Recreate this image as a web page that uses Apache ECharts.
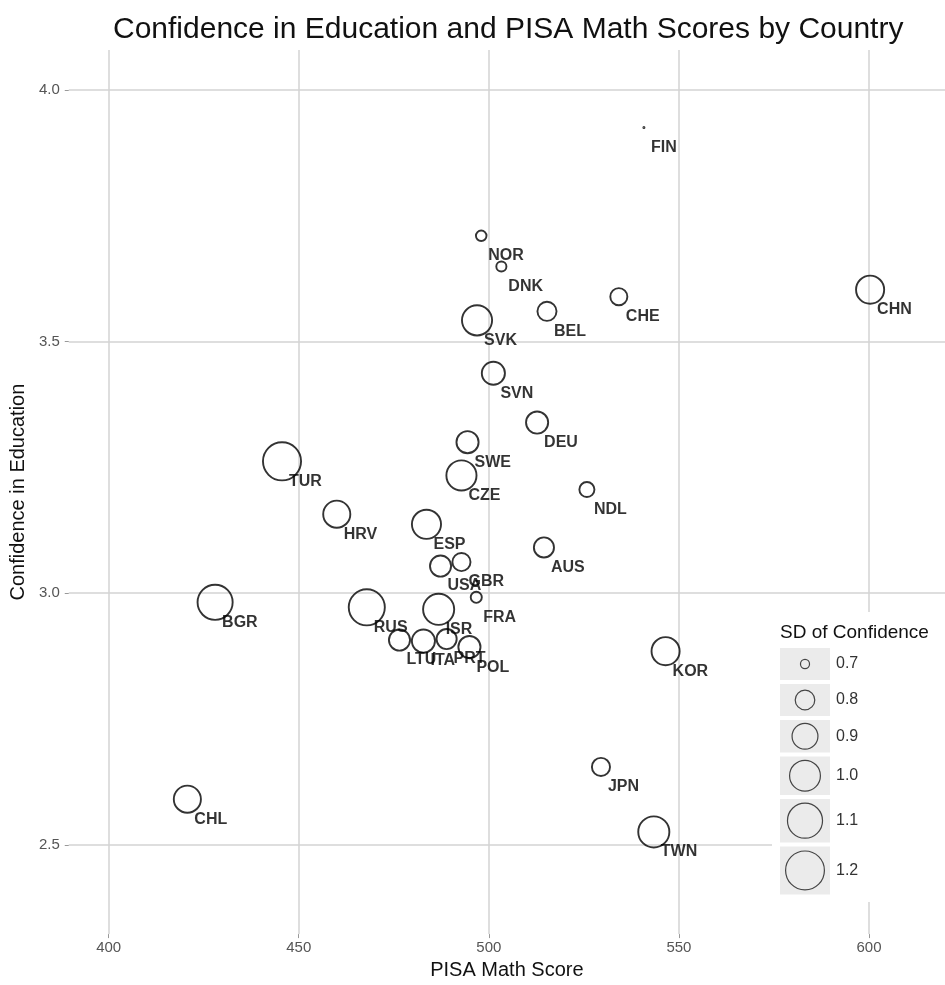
<!DOCTYPE html>
<html>
<head>
<meta charset="utf-8">
<script src="https://cdn.jsdelivr.net/npm/echarts@6/dist/echarts.min.js"></script>
<style>html,body{margin:0;padding:0;background:#fff}#chart{width:945px;height:985px}</style>
</head>
<body>
<div id="chart"></div>
<script>
const countries = ['FIN','NOR','DNK','CHE','BEL','SVK','CHN','SVN','DEU','SWE','CZE','TUR','NDL','HRV','ESP','AUS','USA','GBR','FRA','ISR','RUS','BGR','LTU','ITA','PRT','POL','CHL','JPN','KOR','TWN'];
const mathScore = [540.8,498.0,503.3,534.2,515.3,496.9,600.3,501.2,512.7,494.4,492.8,445.6,525.8,460.0,483.6,514.5,487.3,492.8,496.7,486.8,467.9,428.0,476.5,482.8,488.9,494.9,420.7,529.5,546.5,543.4];
const confidence = [3.925,3.710,3.649,3.589,3.560,3.542,3.603,3.437,3.339,3.300,3.234,3.262,3.206,3.157,3.137,3.091,3.054,3.062,2.992,2.968,2.972,2.982,2.907,2.905,2.909,2.893,2.591,2.655,2.885,2.526];
const sdConfidence = [0.68,0.714,0.711,0.777,0.803,1.0,0.957,0.864,0.848,0.848,1.0,1.2,0.754,0.937,0.978,0.817,0.832,0.790,0.718,1.022,1.145,1.119,0.832,0.864,0.817,0.848,0.937,0.790,0.957,1.022];
const sdBreaks = ['0.7','0.8','0.9','1.0','1.1','1.2'];

const FONT = '"Liberation Sans", Arial, Helvetica, sans-serif';
const STROKE = 1.9;
// outer diameter of a circle for a given SD (area-proportional size scale)
function outerSize(sd) {
  return 3 + 37 * Math.sqrt(Math.max(0, sd - 0.68) / 0.52);
}
function symSize(sd, stroke) {
  return Math.max(0.8, outerSize(sd) - stroke);
}
const points = countries.map((c, i) => ({ name: c, value: [mathScore[i], confidence[i], sdConfidence[i]] }));

// legend keys laid out like ggplot: key height grows with symbol size
function keyHeight(sd) { return Math.max(32, 1.2 * outerSize(sd)); }
const KEY_GAP = 4;

const chart = echarts.init(document.getElementById('chart'), null, { renderer: 'canvas' });
chart.setOption({
  backgroundColor: '#fff',
  animation: false,
  textStyle: { fontFamily: FONT },
  title: [
    { text: 'Confidence in Education and PISA Math Scores by Country', left: 113, top: 15, padding: 0,
      textStyle: { fontFamily: FONT, fontSize: 30, fontWeight: 'normal', color: '#111' } },
    { text: 'SD of Confidence', left: 780, top: 623, padding: 0, z: 10,
      textStyle: { fontFamily: FONT, fontSize: 19, fontWeight: 'normal', color: '#111' } }
  ],
  grid: [
    { left: 68, right: 0, top: 50, bottom: 50 },
    { left: 780, width: 50, top: 648, height: 245, z: 3 },
    { left: 772, right: 0, top: 612, bottom: 83, show: true, backgroundColor: '#fff', borderWidth: 0, z: 1 }
  ],
  xAxis: [
    { type: 'value', gridIndex: 0, min: 389.5, max: 620, minInterval: 50, maxInterval: 50,
      name: 'PISA Math Score', nameLocation: 'middle', nameGap: 24,
      nameTextStyle: { fontFamily: FONT, fontSize: 20, color: '#111' },
      axisLine: { show: false },
      axisTick: { show: true, length: 4, lineStyle: { color: '#999' } },
      axisLabel: { showMinLabel: false, showMaxLabel: false, margin: 6, fontFamily: FONT, fontSize: 15, color: '#555' },
      splitLine: { show: true, showMinLine: false, showMaxLine: false, lineStyle: { color: '#d3d3d3', width: 1.5 } } },
    { type: 'value', gridIndex: 1, min: 0, max: 1, show: false, z: 3 },
    { type: 'value', gridIndex: 2, show: false }
  ],
  yAxis: [
    { type: 'value', gridIndex: 0, min: 2.323, max: 4.079, minInterval: 0.5, maxInterval: 0.5,
      name: 'Confidence in Education', nameLocation: 'middle', nameGap: 40, nameRotate: 90,
      nameTextStyle: { fontFamily: FONT, fontSize: 20, color: '#111' },
      axisLine: { show: false },
      axisTick: { show: true, length: 4, lineStyle: { color: '#999' } },
      axisLabel: { showMinLabel: false, showMaxLabel: false, margin: 9, fontFamily: FONT, fontSize: 15, color: '#555',
        formatter: v => v.toFixed(1) },
      splitLine: { show: true, showMinLine: false, showMaxLine: false, lineStyle: { color: '#d3d3d3', width: 1.5 } } },
    { type: 'value', gridIndex: 1, min: 0, max: 1, show: false, z: 3 },
    { type: 'value', gridIndex: 2, show: false }
  ],
  series: [
    { type: 'scatter', xAxisIndex: 0, yAxisIndex: 0, data: points,
      symbol: 'circle',
      symbolSize: v => symSize(v[2], STROKE),
      itemStyle: { color: 'rgba(255,255,255,0)', borderColor: '#000', borderWidth: STROKE },
      label: { show: true, position: 'inside', align: 'left', verticalAlign: 'middle', offset: [7, 20],
        formatter: p => p.name, fontFamily: FONT, fontSize: 16, fontWeight: 'bold', color: '#000' },
      emphasis: { disabled: true } },
    { type: 'custom', xAxisIndex: 1, yAxisIndex: 1, z: 4, silent: true,
      data: sdBreaks.map(b => [parseFloat(b)]),
      renderItem: function (params, api) {
        const cs = params.coordSys;
        const i = params.dataIndex;
        let top = cs.y;
        for (let j = 0; j < i; j++) top += keyHeight(parseFloat(sdBreaks[j])) + KEY_GAP;
        const sd = api.value(0);
        const h = keyHeight(sd);
        const cx = cs.x + cs.width / 2;
        const cy = top + h / 2;
        const r = symSize(sd, 1.2) / 2;
        return {
          type: 'group',
          children: [
            { type: 'rect', shape: { x: cs.x, y: top, width: cs.width, height: h }, style: { fill: '#ebebeb' } },
            { type: 'circle', shape: { cx: cx, cy: cy, r: r }, style: { fill: 'none', stroke: '#444', lineWidth: 1.2 } },
            { type: 'text', x: cs.x + cs.width + 6, y: cy,
              style: { text: sdBreaks[i], fill: '#333', font: '16px ' + FONT, verticalAlign: 'middle', align: 'left' } }
          ]
        };
      } }
  ]
});
</script>
</body>
</html>
